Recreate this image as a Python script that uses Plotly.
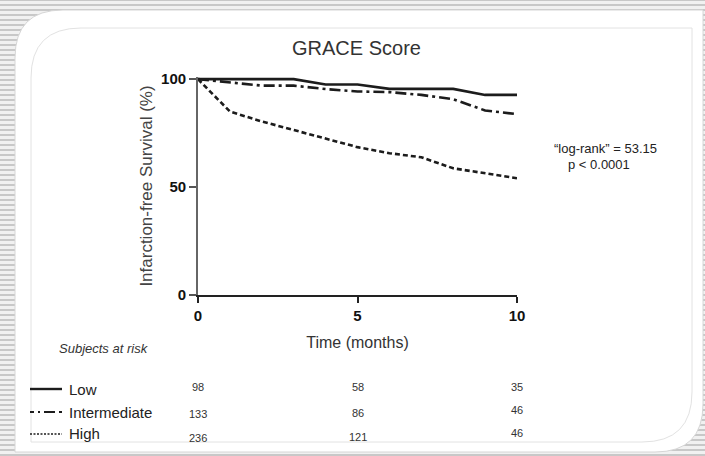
import plotly.graph_objects as go

# ---- data ----
months = [0, 1, 2, 3, 4, 5, 6, 7, 8, 9, 10]
surv_low = [100, 100, 100, 100, 97.5, 97.5, 95.5, 95.5, 95.5, 92.7, 92.7]
surv_int = [100, 98.5, 97, 97, 95.4, 94.3, 94, 92.7, 90.7, 85.5, 83.8]
surv_high = [100, 85, 80.4, 76.5, 72.6, 68.5, 65.7, 63.8, 58.7, 56.4, 54.1]

risk_times = [0, 5, 10]
risk_low = [98, 58, 35]
risk_int = [133, 86, 46]
risk_high = [236, 121, 46]
group_names = ["Low", "Intermediate", "High"]

x_ticks = [0, 5, 10]
y_ticks = [0, 50, 100]

# ---- geometry helpers (pixels -> paper) ----
W, H = 705, 456
ML, MR, MT, MB = 198, 188, 77, 161
PW, PH = W - ML - MR, H - MT - MB


def px(x):
    return (x - ML) / PW


def py(y):
    return (H - MB - y) / PH


FONT = "Liberation Sans, Arial, sans-serif"
INK = "#1c1c1c"

fig = go.Figure()

styles = [
    dict(color=INK, width=2.6, dash="solid"),
    dict(color=INK, width=2.6, dash="11px,4px,3px,4px"),
    dict(color=INK, width=2.6, dash="5px,3px"),
]
for name, ys, st in zip(group_names, [surv_low, surv_int, surv_high], styles):
    fig.add_trace(go.Scatter(x=months, y=ys, mode="lines", name=name,
                             line=st, showlegend=False, hoverinfo="skip"))

shapes = []
# striped slide background
for yy in range(0, H + 5, 5):
    shapes.append(dict(type="line", xref="paper", yref="paper", layer="below",
                       x0=px(-5), x1=px(W + 5), y0=py(yy), y1=py(yy),
                       line=dict(color="#c8c8c8", width=2)))


def diag_round_rect(x0, y0, x1, y1, r):
    return (f"M {px(x0 + r)},{py(y0)} L {px(x1)},{py(y0)} L {px(x1)},{py(y1 - r)} "
            f"Q {px(x1)},{py(y1)} {px(x1 - r)},{py(y1)} L {px(x0)},{py(y1)} "
            f"L {px(x0)},{py(y0 + r)} Q {px(x0)},{py(y0)} {px(x0 + r)},{py(y0)} Z")


# white rounded panel
shapes.append(dict(type="path", xref="paper", yref="paper", layer="below",
                   path=diag_round_rect(15, 10, 703, 452, 48),
                   fillcolor="#ffffff", line=dict(color="#d6d6d6", width=1)))
# inner thin border
shapes.append(dict(type="path", xref="paper", yref="paper", layer="below",
                   path=diag_round_rect(31, 28, 692, 442, 50),
                   fillcolor="rgba(0,0,0,0)", line=dict(color="#e2e2e2", width=1)))

# legend sample lines for subjects-at-risk table
row_y = [389, 412, 434]
sample_styles = [
    dict(color=INK, width=2.4, dash="solid"),
    dict(color=INK, width=2.2, dash="4px,4px,2px,4px,11px"),
    dict(color=INK, width=1.4, dash="2px,1.5px"),
]
for yy, st in zip(row_y, sample_styles):
    shapes.append(dict(type="line", xref="paper", yref="paper",
                       x0=px(30), x1=px(62), y0=py(yy), y1=py(yy), line=st))


def note(text, x, y, size, color="#222", xanchor="center", xref="paper"):
    return dict(text=text, xref=xref, yref="paper", x=x, y=py(y),
                xanchor=xanchor, yanchor="middle", showarrow=False,
                font=dict(family=FONT, size=size, color=color))


annotations = [
    note("GRACE Score", px(356), 48, 20, "#333"),
    note("“log-rank” = 53.15", px(552), 148, 13, xanchor="left"),
    note("p < 0.0001", px(566), 164, 13, xanchor="left"),
    note("<i>Subjects at risk</i>", px(57), 348, 13, "#333", xanchor="left"),
]
for name, yy in zip(group_names, row_y):
    annotations.append(note(name, px(67), yy, 15, xanchor="left"))

row_offsets = [[-2, -2, -2], [2, 1, -2], [4, 3, -1]]
for vals, yy, offs in zip([risk_low, risk_int, risk_high], row_y, row_offsets):
    for t, v, o in zip(risk_times, vals, offs):
        annotations.append(note(str(v), t, yy + o, 11, "#333", xref="x"))

fig.update_layout(
    width=W, height=H,
    margin=dict(l=ML, r=MR, t=MT, b=MB, pad=0),
    paper_bgcolor="#f1f1f1", plot_bgcolor="rgba(0,0,0,0)",
    shapes=shapes, annotations=annotations,
    font=dict(family=FONT, color="#222"),
    xaxis=dict(range=[0, 10], tickvals=x_ticks, ticks="outside", ticklen=6,
               tickwidth=1.6, tickcolor="#222", showline=True, linecolor="#222",
               linewidth=1.8, showgrid=False, zeroline=False,
               tickfont=dict(family=FONT, size=15, color="#111", weight="bold"),
               title=dict(text="Time (months)", standoff=14,
                          font=dict(family=FONT, size=16, color="#333"))),
    yaxis=dict(range=[0, 101], tickvals=y_ticks, ticks="outside", ticklen=7,
               tickwidth=1.6, tickcolor="#555", showline=True, linecolor="#666",
               linewidth=1.8, showgrid=False, zeroline=False,
               tickfont=dict(family=FONT, size=15, color="#111", weight="bold"),
               title=dict(text="Infarction-free Survival (%)", standoff=4,
                          font=dict(family=FONT, size=17, color="#444"))),
)

fig.write_html("out.html")
